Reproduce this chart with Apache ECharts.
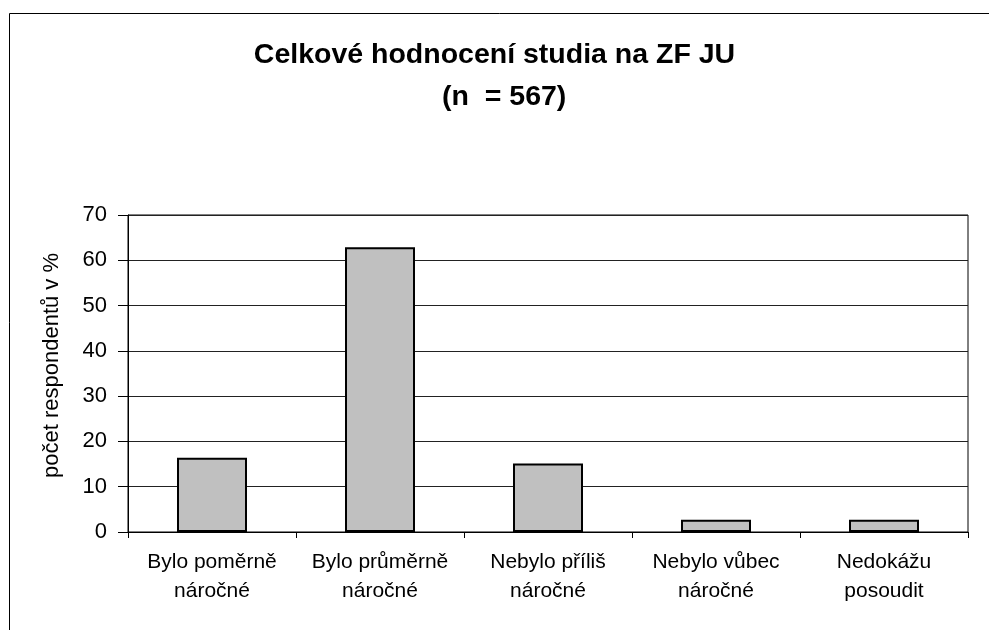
<!DOCTYPE html>
<html>
<head>
<meta charset="utf-8">
<script src="https://cdn.jsdelivr.net/npm/echarts@6/dist/echarts.min.js"></script>
<style>html,body{margin:0;padding:0;background:#fff;}#c{width:989px;height:630px;}</style>
</head>
<body>
<div id="c"></div>
<script>
const titleLine1 = 'Celkové hodnocení studia na ZF JU';
const titleLine2 = '(n  = 567)';
const yAxisName = 'počet respondentů v %';
const categories = ['Bylo poměrně\nnáročné', 'Bylo průměrně\nnáročné', 'Nebylo příliš\nnáročné', 'Nebylo vůbec\nnáročné', 'Nedokážu\nposoudit'];
const values = [16.4, 62.9, 15.1, 2.7, 2.7];
const yMin = 0, yMax = 70, yStep = 10;

const FONT = '"Liberation Sans", Arial, sans-serif';
const chart = echarts.init(document.getElementById('c'), null, {renderer: 'canvas'});
chart.setOption({
  animation: false,
  backgroundColor: '#fff',
  textStyle: {fontFamily: FONT, color: '#000'},
  title: [
    {text: titleLine1, left: 'center', top: 36, textStyle: {fontFamily: FONT, fontSize: 28.5, fontWeight: 'bold', color: '#000'}},
    {text: titleLine2, left: 437, top: 78, textStyle: {fontFamily: FONT, fontSize: 28.5, fontWeight: 'bold', color: '#000'}}
  ],
  graphic: [{
    type: 'rect', silent: true,
    shape: {x: 9.5, y: 13.5, width: 1000, height: 700},
    style: {fill: 'none', stroke: '#000', lineWidth: 1}
  }],
  grid: {left: 128, right: 21, top: 215, bottom: 98, show: true, borderColor: '#000', borderWidth: 1, backgroundColor: 'transparent'},
  xAxis: {
    type: 'category', data: categories,
    axisLine: {lineStyle: {color: '#000', width: 1}},
    axisTick: {show: true, length: 6, alignWithLabel: false, lineStyle: {color: '#000'}},
    axisLabel: {fontFamily: FONT, fontSize: 21, color: '#000', lineHeight: 29, margin: 16, interval: 0}
  },
  yAxis: {
    type: 'value', min: yMin, max: yMax, interval: yStep,
    name: yAxisName, nameLocation: 'middle', nameGap: 65, nameRotate: 90,
    nameTextStyle: {fontFamily: FONT, fontSize: 22, color: '#000', padding: [0, 0, 0, 16]},
    axisLine: {show: true, lineStyle: {color: '#000', width: 1}},
    axisTick: {show: true, length: 10, lineStyle: {color: '#000'}},
    axisLabel: {fontFamily: FONT, fontSize: 22, color: '#000', margin: 21},
    splitLine: {show: true, lineStyle: {color: '#222', width: 1}}
  },
  series: [{
    type: 'bar', data: values, barWidth: 70,
    itemStyle: {color: '#c0c0c0', borderColor: '#000', borderWidth: 2}
  }]
});
</script>
</body>
</html>
